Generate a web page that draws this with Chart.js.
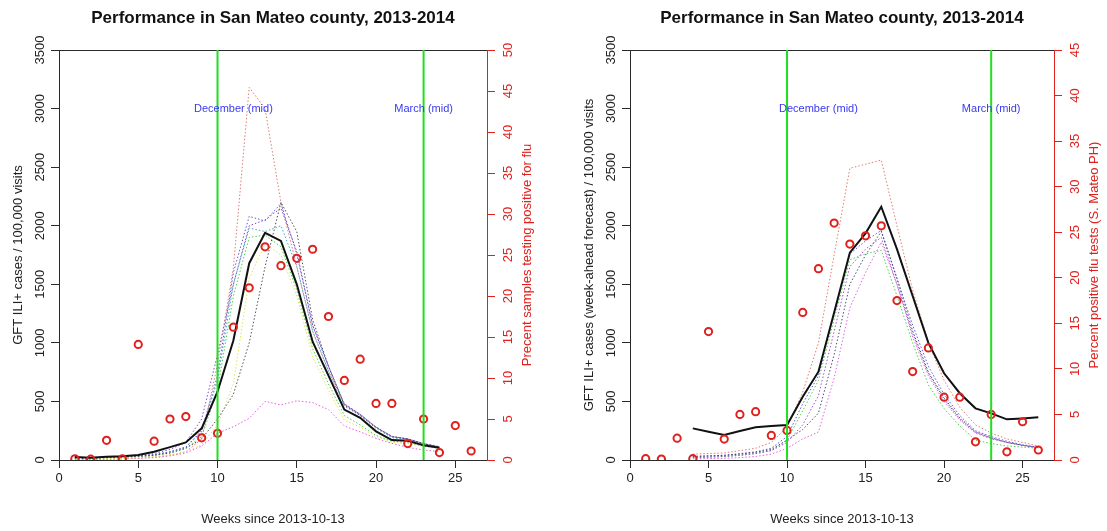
<!DOCTYPE html>
<html>
<head>
<meta charset="utf-8">
<script src="https://cdn.jsdelivr.net/npm/chart.js@4.4.1/dist/chart.umd.min.js"></script>
<style>
  html, body { margin: 0; padding: 0; background: #ffffff; }
  #wrap { position: relative; width: 1107px; height: 531px; overflow: hidden; }
  #left { position: absolute; left: 0; top: 0; }
  #right { position: absolute; left: 553px; top: 0; }
</style>
</head>
<body>
<div id="wrap">
  <canvas id="left" width="553" height="531"></canvas>
  <canvas id="right" width="554" height="531"></canvas>
</div>
<script>
// ---- axis ticks ----
const weekTicks = [0, 5, 10, 15, 20, 25];
const gftTicks = [0, 500, 1000, 1500, 2000, 2500, 3000, 3500];
const pctTicksLeft = [0, 5, 10, 15, 20, 25, 30, 35, 40, 45, 50];
const pctTicksRight = [0, 5, 10, 15, 20, 25, 30, 35, 40, 45];

// ---- weeks ----
const weeksPct = [1, 2, 3, 4, 5, 6, 7, 8, 9, 10, 11, 12, 13, 14, 15, 16, 17, 18, 19, 20, 21, 22, 23, 24, 25, 26];
const weeksNow = [1, 2, 3, 4, 5, 6, 7, 8, 9, 10, 11, 12, 13, 14, 15, 16, 17, 18, 19, 20, 21, 22, 23, 24];
const weeksAhead = [4, 5, 6, 7, 8, 9, 10, 11, 12, 13, 14, 15, 16, 17, 18, 19, 20, 21, 22, 23, 24, 25, 26];

// percent of samples positive for flu (S. Mateo PH)
const pctPositive = [0.15, 0.1, 2.4, 0.15, 14.1, 2.3, 5.0, 5.3, 2.7, 3.25, 16.2, 21.0, 26.0, 23.7, 24.6, 25.7, 17.5, 9.7, 12.3, 6.9, 6.9, 2.0, 5.0, 0.9, 4.2, 1.1];

// ---- nowcast panel: GFT ILI+ estimates ----
const gftMain    = [25, 20, 28, 32, 43, 70, 110, 150, 270, 583, 1020, 1680, 1940, 1870, 1500, 1010, 720, 430, 360, 245, 170, 165, 125, 105];
const gftSalmon  = [5, 5, 8, 10, 15, 25, 40, 70, 180, 820, 1640, 3180, 3000, 2200, 1650, 1100, 760, 480, 390, 280, 200, 180, 140, 115];
const gftBlue    = [20, 20, 25, 30, 35, 45, 70, 110, 250, 720, 1600, 2080, 2040, 2190, 1760, 1150, 800, 470, 390, 280, 200, 180, 140, 110];
const gftTeal    = [20, 20, 25, 30, 35, 45, 70, 110, 240, 680, 1500, 1980, 1950, 2000, 1650, 1100, 760, 460, 380, 270, 190, 175, 135, 110];
const gftGreen   = [15, 15, 20, 25, 30, 40, 60, 100, 200, 600, 1400, 1900, 1920, 1820, 1450, 950, 650, 380, 300, 210, 160, 150, 120, 100];
const gftPurple  = [20, 20, 25, 30, 40, 55, 90, 150, 350, 900, 1500, 2000, 2050, 2150, 1780, 1150, 800, 480, 390, 280, 200, 180, 140, 110];
const gftGray    = [15, 15, 20, 25, 30, 40, 60, 100, 180, 350, 560, 1000, 1650, 2200, 1950, 1200, 800, 470, 380, 280, 200, 180, 140, 110];
const gftYellow  = [10, 10, 12, 15, 20, 30, 45, 70, 130, 300, 650, 1550, 1850, 1750, 1400, 880, 600, 340, 280, 200, 150, 140, 115, 100];
const gftMagenta = [5, 5, 8, 10, 15, 20, 35, 60, 120, 228, 284, 356, 500, 470, 505, 490, 430, 290, 240, 185, 142, 108, 85, 71];

// ---- week-ahead forecast panel ----
const fcMain    = [270, 242, 213, 247, 279, 290, 299, 540, 754, 1260, 1770, 1935, 2162, 1800, 1400, 1000, 740, 570, 441, 398, 347, 355, 364];
const fcSalmon  = [50, 55, 60, 80, 100, 150, 280, 580, 1000, 1750, 2490, 2525, 2560, 2000, 1450, 1000, 680, 450, 300, 230, 180, 150, 120];
const fcBlue    = [30, 35, 40, 55, 70, 100, 200, 480, 720, 1250, 1760, 1870, 1960, 1550, 1150, 800, 560, 380, 250, 200, 160, 130, 110];
const fcGreen   = [20, 25, 30, 40, 55, 80, 170, 420, 680, 1200, 1710, 1760, 1790, 1400, 1000, 640, 440, 290, 170, 140, 120, 110, 100];
const fcSlate   = [30, 35, 40, 50, 65, 90, 170, 260, 400, 900, 1500, 1750, 1950, 1550, 1100, 750, 530, 360, 240, 190, 150, 125, 105];
const fcMagenta = [10, 12, 15, 20, 30, 50, 100, 180, 240, 700, 1300, 1600, 1860, 1500, 1050, 720, 500, 340, 230, 180, 150, 125, 105];
const fcPurple  = [20, 25, 30, 40, 55, 80, 150, 300, 550, 1100, 1650, 1800, 1900, 1500, 1080, 740, 520, 350, 235, 185, 150, 125, 105];

// ---- reference dates ----
const markerWeeks = [10, 23];
const monthNames = ['December (mid)', 'March (mid)'];

const FONT = "'Liberation Sans', Arial, Helvetica, sans-serif";
const AXIS = '#2a2a2a';
const RED = '#e0201c';
Chart.defaults.font.family = FONT;

const pts = (xs, ys) => xs.map((x, i) => ({ x: x, y: ys[i] }));

function dotted(xs, ys, color) {
  return {
    data: pts(xs, ys), yAxisID: 'y', borderColor: color, borderWidth: 1,
    borderDash: [1.5, 2], pointRadius: 0, tension: 0, fill: false
  };
}

function vline(wk) {
  return {
    data: [{ x: wk, y: 0 }, { x: wk, y: 3500 }], yAxisID: 'y',
    borderColor: '#1ee01e', borderWidth: 2, pointRadius: 0
  };
}

// text: title, rotated tick labels, axis titles, month notes, top frame line
const panelText = {
  id: 'panelText',
  beforeDatasetsDraw(chart) {
    const { ctx, chartArea: a } = chart;
    ctx.save();
    ctx.strokeStyle = AXIS;
    ctx.lineWidth = 1;
    ctx.beginPath();
    ctx.moveTo(a.left, a.top + 0.5);
    ctx.lineTo(a.right, a.top + 0.5);
    ctx.stroke();
    ctx.restore();
  },
  afterDraw(chart, args, o) {
    const { ctx, chartArea: a, scales } = chart;
    const cx = (a.left + a.right) / 2;
    const cy = (a.top + a.bottom) / 2;
    ctx.save();
    // title
    ctx.fillStyle = '#111';
    ctx.font = 'bold 17px ' + FONT;
    ctx.textAlign = 'center';
    ctx.textBaseline = 'middle';
    ctx.fillText(o.title, cx, 18);

    const rot = (text, x, y, font, color) => {
      ctx.save();
      ctx.translate(x, y);
      ctx.rotate(-Math.PI / 2);
      ctx.font = font;
      ctx.fillStyle = color;
      ctx.textAlign = 'center';
      ctx.textBaseline = 'middle';
      ctx.fillText(text, 0, 0);
      ctx.restore();
    };
    // left axis
    gftTicks.forEach(v => rot(String(v), a.left - 19, scales.y.getPixelForValue(v), '13px ' + FONT, '#222'));
    rot(o.yTitle, a.left - 41, cy, '13px ' + FONT, '#222');
    // right axis
    o.pctTicks.forEach(v => rot(String(v), a.right + 21, scales.y2.getPixelForValue(v), '13px ' + FONT, RED));
    rot(o.y2Title, a.right + 40, cy, '13px ' + FONT, RED);
    // month notes
    ctx.font = '11px ' + FONT;
    ctx.fillStyle = '#3a3af0';
    ctx.textAlign = 'center';
    ctx.textBaseline = 'middle';
    o.notes.forEach((wk, i) => {
      ctx.fillText(monthNames[i], scales.x.getPixelForValue(wk), scales.y.getPixelForValue(3000));
    });
    ctx.restore();
  }
};

function makePanel(id, cfg) {
  const datasets = [
    vline(markerWeeks[0]),
    vline(markerWeeks[1]),
    {
      data: pts(weeksPct, pctPositive), yAxisID: 'y2', showLine: false,
      pointStyle: 'circle', pointRadius: 3.6, pointBorderWidth: 2,
      pointBorderColor: RED, pointBackgroundColor: 'rgba(0,0,0,0)'
    },
    {
      data: pts(cfg.weeks, cfg.main), yAxisID: 'y', borderColor: '#111',
      borderWidth: 2, pointRadius: 0, tension: 0
    }
  ].concat(cfg.dotted);

  return new Chart(document.getElementById(id), {
    type: 'line',
    data: { datasets: datasets },
    plugins: [panelText],
    options: {
      responsive: false,
      animation: false,
      layout: { padding: { top: 50, left: 0, right: 0, bottom: 0 } },
      plugins: {
        legend: { display: false },
        tooltip: { enabled: false },
        panelText: {
          title: 'Performance in San Mateo county, 2013-2014',
          yTitle: cfg.yTitle, y2Title: cfg.y2Title,
          pctTicks: cfg.pctTicks, notes: cfg.notes
        }
      },
      scales: {
        x: {
          type: 'linear', min: 0, max: 27, position: 'bottom',
          afterBuildTicks: s => { s.ticks = weekTicks.map(v => ({ value: v })); },
          afterFit: s => { s.height = 71; },
          grid: { display: true, drawOnChartArea: false, drawTicks: true, tickLength: 8, color: AXIS },
          border: { display: true, color: AXIS, width: 1 },
          ticks: { color: '#222', font: { size: 13 }, padding: 3, maxRotation: 0 },
          title: { display: true, text: 'Weeks since 2013-10-13', color: '#222', font: { size: 13 }, padding: { top: 0, bottom: 4 } }
        },
        y: {
          type: 'linear', min: 0, max: 3500, position: 'left',
          afterBuildTicks: s => { s.ticks = gftTicks.map(v => ({ value: v })); },
          afterFit: s => { s.width = cfg.leftW; },
          grid: { display: true, drawOnChartArea: false, drawTicks: true, tickLength: 8, color: AXIS },
          border: { display: true, color: AXIS, width: 1 },
          ticks: { display: false }
        },
        y2: {
          type: 'linear', min: 0, max: cfg.pctMax, position: 'right',
          afterBuildTicks: s => { s.ticks = cfg.pctTicks.map(v => ({ value: v })); },
          afterFit: s => { s.width = cfg.rightW; },
          grid: { display: true, drawOnChartArea: false, drawTicks: true, tickLength: 8, color: RED },
          border: { display: true, color: RED, width: 1 },
          ticks: { display: false }
        }
      }
    }
  });
}

makePanel('left', {
  weeks: weeksNow, main: gftMain, leftW: 59, rightW: 66,
  pctMax: 50, pctTicks: pctTicksLeft, notes: [11, 23],
  yTitle: 'GFT ILI+ cases / 100,000 visits',
  y2Title: 'Precent samples testing positive for flu',
  dotted: [
    dotted(weeksNow, gftGray, '#505050'),
    dotted(weeksNow, gftBlue, '#5a5ad8'),
    dotted(weeksNow, gftPurple, '#8a4ac8'),
    dotted(weeksNow, gftTeal, '#3aa8c8'),
    dotted(weeksNow, gftGreen, '#4ad04a'),
    dotted(weeksNow, gftYellow, '#e6e64a'),
    dotted(weeksNow, gftSalmon, '#e07a70'),
    dotted(weeksNow, gftMagenta, '#e060e0')
  ]
});

makePanel('right', {
  weeks: weeksAhead, main: fcMain, leftW: 77, rightW: 53,
  pctMax: 45, pctTicks: pctTicksRight, notes: [12, 23],
  yTitle: 'GFT ILI+ cases (week-ahead forecast) / 100,000 visits',
  y2Title: 'Percent positive flu tests (S. Mateo PH)',
  dotted: [
    dotted(weeksAhead, fcSlate, '#405068'),
    dotted(weeksAhead, fcBlue, '#5a5ad8'),
    dotted(weeksAhead, fcPurple, '#a050d0'),
    dotted(weeksAhead, fcGreen, '#4ad04a'),
    dotted(weeksAhead, fcSalmon, '#e07a70'),
    dotted(weeksAhead, fcMagenta, '#e060e0')
  ]
});
</script>
</body>
</html>
